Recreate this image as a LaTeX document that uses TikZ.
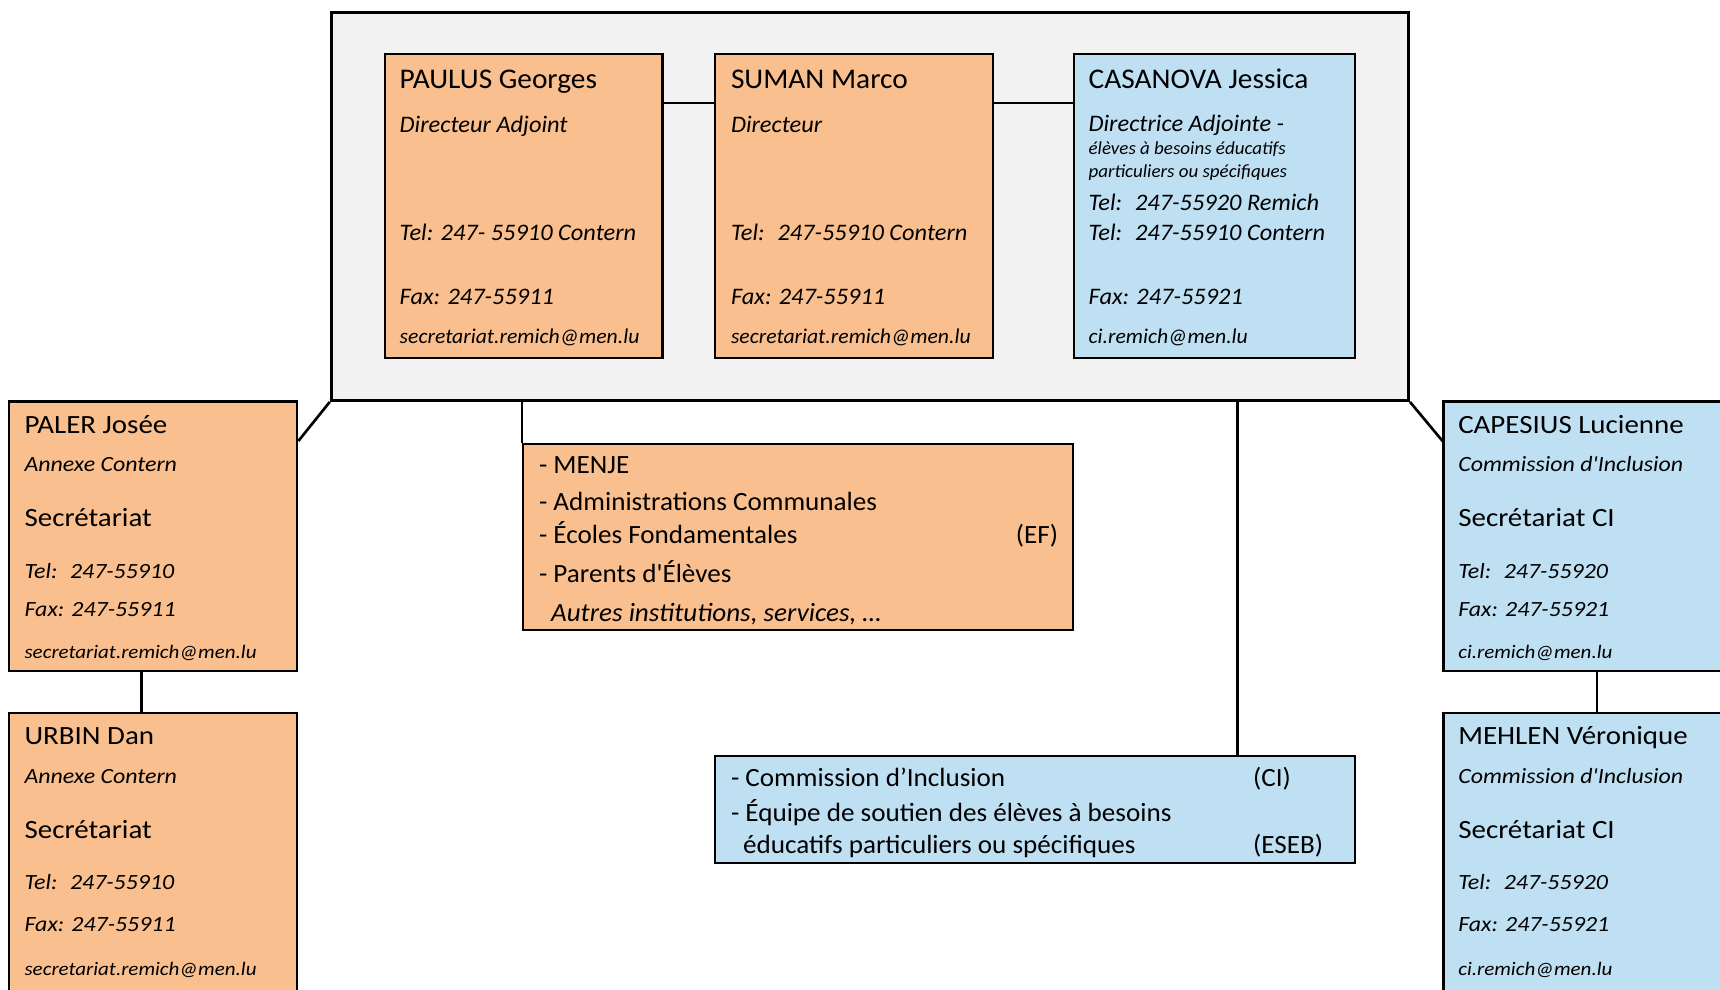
\documentclass[tikz,border=0pt]{standalone}
\usepackage{fontspec}
\newfontfamily\calib[FakeStretch=1.03]{Carlito}
\newfontfamily\calibw[FakeStretch=1.1]{Carlito}
\usetikzlibrary{fit,calc}
\definecolor{orangeF}{HTML}{F9BF8F}
\definecolor{blueF}{HTML}{BFE0F3}
\definecolor{grayF}{HTML}{F2F2F2}
\newcommand\myfs[1]{\fontsize{#1}{#1}\selectfont}
\tikzset{
  box/.style={draw, line width=1pt, inner sep=0pt},
  boxo/.style={box, fill=orangeF},
  boxb/.style={box, fill=blueF},
  mainbox/.style={draw, line width=1.4pt, inner sep=0pt, fill=grayF},
  txt/.style={anchor=base west, inner sep=0pt, font=\calib},
  txtr/.style={anchor=base east, inner sep=0pt, font=\calib},
  stxt/.style={anchor=base west, inner sep=0pt, font=\calibw},
  link/.style={line width=1.2pt}
}
\begin{document}
\begin{tikzpicture}[x=0.5pt,y=-0.5pt]
\useasboundingbox (0,0) rectangle (1568,902);
\clip (0,0) rectangle (1568,902);
\fill[white] (0,0) rectangle (1568,902);

% main group box
\node[mainbox, fit={(302,11) (1284,365)}] (main) {};
% top boxes
\node[boxo, fit={(351,49) (604,326)}] (paulus) {};
\node[boxo, fit={(652,49) (905,326)}] (suman) {};
\node[boxb, fit={(979,49) (1235,326)}] (casanova) {};
% side boxes
\node[boxo, fit={(8,366) (271,612)}] (paler) {};
\node[boxo, fit={(8,650) (271,920)}] (urbin) {};
\node[boxb, fit={(1316,366) (1590,612)}] (capesius) {};
\node[boxb, fit={(1316,650) (1590,920)}] (mehlen) {};
% middle boxes
\node[boxo, fit={(477,405) (978,574)}] (partners) {};
\node[boxb, fit={(652,689) (1235,787)}] (ci) {};

% connectors
\coordinate (ps) at ($(paulus.north east)+(0,46)$);
\draw[link] (ps) -- (ps -| suman.west);
\coordinate (sc) at ($(suman.north east)+(0,46)$);
\draw[link] (sc) -- (sc -| casanova.west);
\draw[link] (main.south west) -- ($(paler.north east)+(0,37)$);
\draw[link] (main.south east) -- ($(capesius.north west)+(0,37)$);
\draw[link] (partners.north west |- main.south) -- (partners.north west);
\coordinate (cix) at ($(ci.north west)+(477,0)$);
\draw[link] (cix |- main.south) -- (cix);
\coordinate (pu) at ($(paler.south west)+(122,0)$);
\draw[link] (pu) -- (pu |- urbin.north);
\coordinate (cm) at ($(capesius.south west)+(141,0)$);
\draw[link] (cm) -- (cm |- mehlen.north);

% PAULUS
\node[txt] (p1) at (364,81) {\myfs{13}PAULUS Georges};
\node[txt] (p2) at (364,121) {\myfs{10.8}\itshape Directeur Adjoint};
\node[txt] (p3) at (364,219) {\myfs{10.8}\itshape Tel: 247- 55910 Contern};
\node[txt] (p4) at (364,278) {\myfs{10.8}\itshape Fax: 247-55911};
\node[txt] (p5) at (364,313) {\myfs{9.6}\itshape secretariat.remich@men.lu};
% SUMAN
\node[txt] (s1) at (666,81) {\myfs{13}SUMAN Marco};
\node[txt] (s2) at (666,121) {\myfs{10.8}\itshape Directeur};
\node[txt] (s3) at (666,219) {\myfs{10.8}\itshape Tel:~ 247-55910 Contern};
\node[txt] (s4) at (666,278) {\myfs{10.8}\itshape Fax: 247-55911};
\node[txt] (s5) at (666,313) {\myfs{9.6}\itshape secretariat.remich@men.lu};
% CASANOVA
\node[txt] (c1) at (992,81) {\myfs{13}CASANOVA Jessica};
\node[txt] (c2) at (992,120) {\myfs{10.8}\itshape Directrice Adjointe -};
\node[txt] (c3) at (992,141) {\myfs{8.4}\itshape élèves à besoins éducatifs};
\node[txt] (c4) at (992,162) {\myfs{8.4}\itshape particuliers ou spécifiques};
\node[txt] (c5) at (992,192) {\myfs{10.8}\itshape Tel:~ 247-55920 Remich};
\node[txt] (c6) at (992,219) {\myfs{10.8}\itshape Tel:~ 247-55910 Contern};
\node[txt] (c7) at (992,278) {\myfs{10.8}\itshape Fax: 247-55921};
\node[txt] (c8) at (992,313) {\myfs{9.6}\itshape ci.remich@men.lu};

% PALER
\node[stxt] (pa1) at (22,395) {\myfs{12}PALER Josée};
\node[stxt] (pa2) at (22,430) {\myfs{9.9}\itshape Annexe Contern};
\node[stxt] (pa3) at (22,480) {\myfs{12}Secrétariat};
\node[stxt] (pa4) at (22,527) {\myfs{9.9}\itshape Tel:~ 247-55910};
\node[stxt] (pa5) at (22,562) {\myfs{9.9}\itshape Fax: 247-55911};
\node[stxt] (pa6) at (22,600) {\myfs{8.7}\itshape secretariat.remich@men.lu};
% URBIN
\node[stxt] (u1) at (22,679) {\myfs{12}URBIN Dan};
\node[stxt] (u2) at (22,714) {\myfs{9.9}\itshape Annexe Contern};
\node[stxt] (u3) at (22,764) {\myfs{12}Secrétariat};
\node[stxt] (u4) at (22,811) {\myfs{9.9}\itshape Tel:~ 247-55910};
\node[stxt] (u5) at (22,849) {\myfs{9.9}\itshape Fax: 247-55911};
\node[stxt] (u6) at (22,889) {\myfs{8.7}\itshape secretariat.remich@men.lu};
% CAPESIUS
\node[stxt] (ca1) at (1329,395) {\myfs{12}CAPESIUS Lucienne};
\node[stxt] (ca2) at (1329,430) {\myfs{9.9}\itshape Commission d'Inclusion};
\node[stxt] (ca3) at (1329,480) {\myfs{12}Secrétariat CI};
\node[stxt] (ca4) at (1329,527) {\myfs{9.9}\itshape Tel:~ 247-55920};
\node[stxt] (ca5) at (1329,562) {\myfs{9.9}\itshape Fax: 247-55921};
\node[stxt] (ca6) at (1329,600) {\myfs{8.7}\itshape ci.remich@men.lu};
% MEHLEN
\node[stxt] (m1) at (1329,679) {\myfs{12}MEHLEN Véronique};
\node[stxt] (m2) at (1329,714) {\myfs{9.9}\itshape Commission d'Inclusion};
\node[stxt] (m3) at (1329,764) {\myfs{12}Secrétariat CI};
\node[stxt] (m4) at (1329,811) {\myfs{9.9}\itshape Tel:~ 247-55920};
\node[stxt] (m5) at (1329,849) {\myfs{9.9}\itshape Fax: 247-55921};
\node[stxt] (m6) at (1329,889) {\myfs{8.7}\itshape ci.remich@men.lu};

% partners
\node[txt] (t1) at (491,432) {\myfs{12}- MENJE};
\node[txt] (t2) at (491,465) {\myfs{12}- Administrations Communales};
\node[txt] (t3) at (491,495) {\myfs{12}- Écoles Fondamentales};
\node[txtr] (t3b) at (965,495) {\myfs{12}(EF)};
\node[txt] (t4) at (491,531) {\myfs{12}- Parents d'Élèves};
\node[txt] (t5) at (502,567) {\myfs{12}\itshape Autres institutions, services, …};

% CI
\node[txt] (k1) at (666,717) {\myfs{12}- Commission d’Inclusion};
\node[txt] (k1b) at (1142,717) {\myfs{12}(CI)};
\node[txt] (k2) at (666,749) {\myfs{12}- Équipe de soutien des élèves à besoins};
\node[txt] (k3) at (677,778) {\myfs{12}éducatifs particuliers ou spécifiques};
\node[txt] (k3b) at (1142,778) {\myfs{12}(ESEB)};
\end{tikzpicture}
\end{document}
